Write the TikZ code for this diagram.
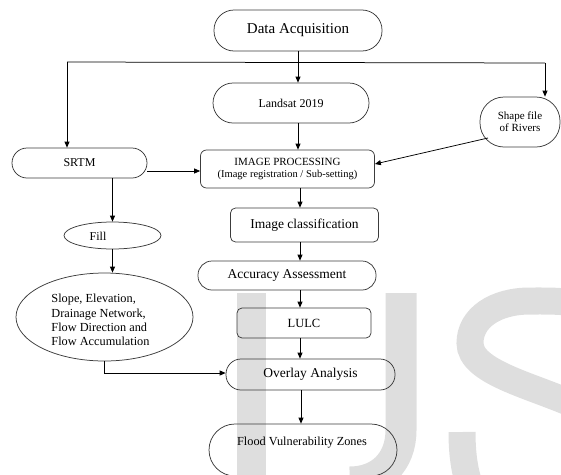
\documentclass[tikz,border=0pt]{standalone}
\usepackage{fontspec}
\setmainfont{Liberation Serif}
\usetikzlibrary{arrows.meta,shapes.geometric,calc}
\definecolor{wm}{RGB}{222,222,222}
\definecolor{edge}{RGB}{60,60,60}
\begin{document}
\begin{tikzpicture}[x=1pt,y=-1pt,
  box/.style={draw=edge, line width=0.75pt, rectangle, inner sep=0pt},
  rbox/.style={box, rounded corners=#1},
  ell/.style={draw=edge, line width=0.75pt, ellipse, inner sep=0pt},
  fs/.style={font=\fontsize{#1}{#1}\selectfont},
  txt/.style={inner sep=0pt},
  ln/.style={draw=black, line width=0.75pt},
  arr/.style={ln, -{Triangle[length=6pt,width=5pt]}}
]
\useasboundingbox (0,0) rectangle (561,474);

% watermark
\begin{scope}
\clip (0,0) rectangle (561,474);
\fill[wm] (237,293) rectangle (266,480);
\draw[wm, line width=31pt] (401,293) -- (401,430) .. controls (401,462) and (380,482) .. (350,482);
\draw[wm, line width=27pt] (600,318) .. controls (588,300) and (560,301) .. (530,301)
  .. controls (495,301) and (470,318) .. (470,343)
  .. controls (470,372) and (530,385) .. (575,405)
  .. controls (615,423) and (635,450) .. (635,485)
  .. controls (635,530) and (560,545) .. (515,530)
  .. controls (480,518) and (462,490) .. (462,432);
\end{scope}

% nodes
\node[rbox=20pt, minimum width=168pt, minimum height=41pt, fs=15] (da) at (298,30.5) {Data Acquisition};
\node[rbox=20pt, minimum width=156pt, minimum height=40pt, fs=12] (lan) at (291,103) {Landsat 2019};
\node[rbox=24pt, minimum width=80pt, minimum height=50pt, align=center, font=\fontsize{11}{12}\selectfont] (shp) at (520,122) {Shape file\\of Rivers};
\node[rbox=15pt, minimum width=135pt, minimum height=30pt, fs=12] (srtm) at (79.5,163) {SRTM};
\node[rbox=6pt, minimum width=174pt, minimum height=38pt, align=center] (ip) at (287.5,169)
  {{\fontsize{11}{12}\selectfont IMAGE PROCESSING}\\{\fontsize{10.5}{12}\selectfont (Image registration / Sub-setting)}};
\node[rbox=5pt, minimum width=148pt, minimum height=34pt, fs=13.5] (ic) at (304.5,225) {Image classification};
\node[rbox=14pt, minimum width=178pt, minimum height=29pt, fs=13.5] (aa) at (287,275.5) {Accuracy Assessment};
\node[rbox=5pt, minimum width=134pt, minimum height=30pt, fs=12.5] (lulc) at (304,323) {LULC};
\node[rbox=15pt, minimum width=169pt, minimum height=31pt, fs=13.5] (oa) at (310.5,374.5) {Overlay Analysis};
\node[rbox=26pt, minimum width=188pt, minimum height=52pt] (fz) at (303,450) {};
\node[txt, fs=12.3] (fzt) at (302,443) {Flood Vulnerability Zones};
\node[ell, minimum width=97pt, minimum height=27pt] (fill) at (112.5,235.5) {};
\node[txt, fs=12] (fillt) at (98,236) {Fill};
\node[ell, minimum width=177pt, minimum height=88pt] (slope) at (104.5,317) {};
\node[txt, align=left, font=\fontsize{12.3}{14.3}\selectfont] (slopet) at (100.5,320)
  {Slope, Elevation,\\Drainage Network,\\Flow Direction and\\Flow Accumulation};

% connectors
\coordinate (hl) at (67,62);
\coordinate (hr) at (545,63);
\coordinate (col) at (300,0);
\coordinate (shs) at ($(shp.center)+(-32,16)$);
\coordinate (ipe) at ($(ip.east)+(0,-5)$);
\coordinate (se) at ($(srtm.east)+(0,8)$);
\coordinate (oaw) at ($(oa.west)+(0,-1.5)$);
\draw[ln] (hl) -- (hr);
\draw[arr] (hl) -- (hl |- srtm.north);
\draw[arr] (hr) -- (hr |- shp.north);
\draw[arr] (da.south) -- (da.south |- lan.north);
\draw[arr] (da.south |- lan.south) -- (da.south |- ip.north);
\draw[arr] (shs) -- (ipe);
\draw[arr] (se) -- (se -| ip.west);
\draw[arr] (fill.north |- srtm.south) -- (fill.north);
\draw[arr] (fill.south) -- (fill.south |- slope.north);
\draw[arr] (col |- ip.south) -- (col |- ic.north);
\draw[arr] (col |- ic.south) -- (col |- aa.north);
\draw[arr] (col |- aa.south) -- (col |- lulc.north);
\draw[arr] (col |- lulc.south) -- (col |- oa.north);
\draw[arr] (slope.south) |- (oaw);
\draw[arr] ([xshift=1pt]col |- oa.south) -- ([xshift=1pt]col |- fz.north);
\end{tikzpicture}
\end{document}
